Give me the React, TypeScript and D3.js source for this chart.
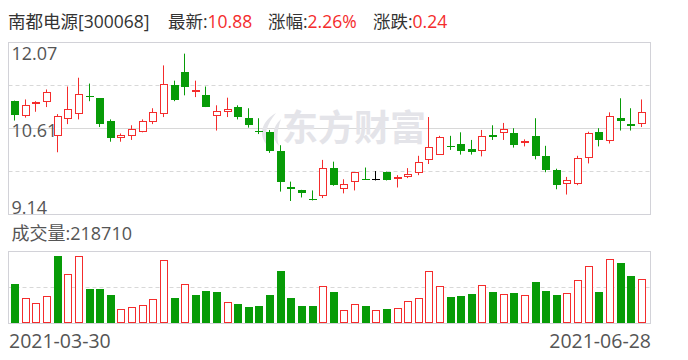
import React from "react";
import * as d3 from "d3";

const stockName = "南都电源[300068]";
const opens = [11.08,10.81,11.02,11.06,10.47,10.76,10.86,11.16,11.12,10.73,10.45,10.47,10.55,10.72,10.86,11.35,11.57,11.22,11.17,10.82,10.89,10.97,10.79,10.56,10.54,10.22,9.61,9.56,9.41,9.46,9.93,9.57,9.70,9.74,9.74,9.87,9.74,9.78,9.84,10.06,10.16,10.30,10.34,10.26,10.22,10.49,10.52,10.53,10.35,10.48,10.14,9.90,9.66,9.66,10.11,10.55,10.39,10.79,10.69,10.69];
const highs = [11.08,11.10,11.07,11.27,10.85,11.32,11.47,11.37,11.12,10.76,10.52,10.66,10.76,10.95,11.68,11.42,11.88,11.42,11.32,11.00,11.13,11.00,10.95,10.78,10.58,10.32,9.70,9.56,9.55,10.07,10.04,9.74,9.86,9.94,9.88,9.87,9.81,9.93,10.14,10.80,10.48,10.48,10.54,10.41,10.58,10.66,10.70,10.61,10.42,10.78,10.31,9.92,9.78,10.14,10.55,10.61,10.88,11.12,10.95,11.10];
const lows = [10.74,10.79,10.89,10.97,10.20,10.68,10.76,11.07,10.63,10.38,10.38,10.41,10.54,10.68,10.80,11.07,11.17,11.14,10.97,10.57,10.80,10.76,10.62,10.51,10.19,9.53,9.37,9.43,9.38,9.42,9.63,9.50,9.55,9.74,9.72,9.72,9.60,9.76,9.81,10.00,10.16,10.24,10.16,10.16,10.13,10.41,10.41,10.28,10.30,10.08,9.86,9.57,9.48,9.64,10.01,10.30,10.35,10.57,10.57,10.63];
const closes = [10.84,11.00,11.06,11.22,10.81,10.93,11.20,11.16,10.68,10.45,10.50,10.59,10.73,10.89,11.37,11.09,11.31,11.26,10.97,10.90,10.94,10.80,10.66,10.56,10.23,9.70,9.57,9.50,9.41,9.93,9.65,9.66,9.86,9.74,9.74,9.73,9.78,9.83,10.03,10.29,10.46,10.30,10.22,10.21,10.47,10.46,10.59,10.33,10.40,10.14,9.89,9.65,9.73,10.10,10.52,10.41,10.81,10.74,10.64,10.88];
const volumes = [194000,128000,100000,138000,332000,243000,332000,169000,169000,140000,74000,79000,89000,123000,311000,125000,194000,140000,159000,155000,105000,95000,81000,85000,140000,258000,125000,85000,85000,187000,155000,69000,95000,87000,66000,72000,76000,110000,125000,258000,184000,132000,136000,146000,189000,156000,146000,151000,140000,206000,161000,141000,150000,214000,283000,156000,317000,299000,235000,218710];
const dateLabels = ["2021-03-30", "2021-06-28"];
const priceLabels = ["12.07", "10.61", "9.14"];
const priceMax = 12.07;
const priceMin = 9.14;

const RED = "#f42c2c";
const GREEN = "#079b07";
const FONT = "'Open Sans','Noto Sans CJK SC',sans-serif";

export default function App() {
  const n = closes.length;
  const fx = 8.5, fw = 642;
  const pTop = 42.5, pBot = 214.5;
  const vTop = 251.5, vBot = 323.5;

  const x = d3.scalePoint<number>().domain(d3.range(n)).range([15.2, 641.8]);
  const y = d3.scaleLinear().domain([priceMin, priceMax]).range([pBot, pTop]);
  const yv = d3.scaleLinear().domain([0, (d3.max(volumes) as number) * 1.07]).range([vBot, vTop]);

  const last = closes[n - 1];
  const prev = closes[n - 2];
  const chg = last - prev;
  const pct = (chg / prev) * 100;

  const pGrid = [0.25, 0.5, 0.75].map((t) => pTop + (pBot - pTop) * t);
  const vMid = (vTop + vBot) / 2;

  const candles = d3.range(n).map((i) => {
    const o = opens[i], c = closes[i], h = highs[i], l = lows[i];
    const pc = i > 0 ? closes[i - 1] : o;
    let color: string;
    let kind: "up" | "down" | "doji";
    if (c > o) { color = RED; kind = "up"; }
    else if (c < o) { color = GREEN; kind = "down"; }
    else { kind = "doji"; color = c > pc ? RED : c < pc ? GREEN : "#000"; }
    const bx = Math.round((x(i) as number) - 4);
    const wx = bx + 3.5;
    const yo = Math.round(y(o)), yc = Math.round(y(c));
    const top = Math.min(yo, yc), bot = Math.max(yo, yc);
    return (
      <g key={i}>
        <line x1={wx} x2={wx} y1={y(h)} y2={y(l)} stroke={color} strokeWidth={1} />
        {kind === "up" && (
          <rect x={bx + 0.5} y={top + 0.5} width={7} height={Math.max(bot - top - 1, 1)} fill="#fff" stroke={color} strokeWidth={1} />
        )}
        {kind === "down" && (
          <rect x={bx} y={top} width={8} height={Math.max(bot - top, 1)} fill={color} />
        )}
        {kind === "doji" && (
          <line x1={bx} x2={bx + 8} y1={yc + 0.5} y2={yc + 0.5} stroke={color} strokeWidth={1} />
        )}
      </g>
    );
  });

  const vbars = d3.range(n).map((i) => {
    const c = closes[i];
    const up = i > 0 ? c >= closes[i - 1] : c >= opens[i];
    const bx = Math.round((x(i) as number) - 4);
    const yt = Math.round(yv(volumes[i]));
    const hgt = Math.round(vBot - 0.5) - yt;
    return up ? (
      <rect key={i} x={bx + 0.5} y={yt + 0.5} width={7} height={hgt - 1} fill="#fff" stroke={RED} strokeWidth={1} />
    ) : (
      <rect key={i} x={bx} y={yt} width={8} height={hgt} fill={GREEN} />
    );
  });

  return (
    <svg width={688} height={360} style={{ position: "absolute", left: 0, top: 0, background: "#fff" }} fontFamily={FONT}>
      <rect x={0} y={0} width={688} height={360} fill="#fff" />
      {/* title */}
      <text y={28} fontSize={17.5} fill="#333">
        <tspan x={8}>{stockName}</tspan>
        <tspan x={168}>最新:</tspan>
        <tspan fill={RED}>{last.toFixed(2)}</tspan>
        <tspan x={268}>涨幅:</tspan>
        <tspan fill={RED}>{pct.toFixed(2)}%</tspan>
        <tspan x={373}>涨跌:</tspan>
        <tspan fill={RED}>{chg.toFixed(2)}</tspan>
      </text>

      {/* price frame */}
      {pGrid.map((gy, k) => (
        <line key={k} x1={fx} x2={fx + fw} y1={gy} y2={gy} stroke="#d8d8d8" strokeWidth={1} strokeDasharray={k === 1 ? undefined : "4,3"} />
      ))}
      <rect x={fx} y={pTop} width={fw} height={pBot - pTop} fill="none" stroke="#d2d2d8" strokeWidth={1} />

      {/* watermark */}
      <g fill="#e4e4e9">
        <path d="M276 113 C262 121 257 135 268 146 C263 135 267 124 276 113 Z" />
        <path d="M281 119 C272 127 271 138 279 146 C276 137 278 128 281 119 Z" />
        <text x={282} y={141} fontSize={36} fontWeight="bold" fontFamily="'Noto Sans CJK SC',sans-serif">东方财富</text>
      </g>

      {/* price labels */}
      <g fontSize={18} fill="#555">
        <text x={11.5} y={60}>{priceLabels[0]}</text>
        <text x={11.5} y={136.5}>{priceLabels[1]}</text>
        <text x={11.5} y={214}>{priceLabels[2]}</text>
      </g>

      {candles}

      {/* volume */}
      <text x={11.5} y={240} fontSize={18} fill="#555">成交量:{volumes[n - 1]}</text>
      <line x1={fx} x2={fx + fw} y1={vMid} y2={vMid} stroke="#d8d8d8" strokeDasharray="4,3" />
      <rect x={fx} y={vTop} width={fw} height={vBot - vTop} fill="none" stroke="#d2d2d8" strokeWidth={1} />
      {vbars}

      {/* dates */}
      <g fontSize={19.5} fill="#555">
        <text x={9} y={348}>{dateLabels[0]}</text>
        <text x={651} y={348} textAnchor="end">{dateLabels[1]}</text>
      </g>
    </svg>
  );
}
